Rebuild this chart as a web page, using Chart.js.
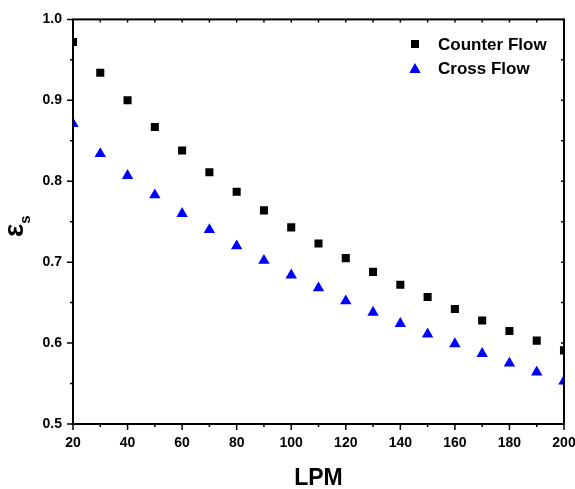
<!DOCTYPE html>
<html>
<head>
<meta charset="utf-8">
<script src="https://cdn.jsdelivr.net/npm/chart.js@4/dist/chart.umd.min.js"></script>
<style>
  html, body { margin: 0; padding: 0; background: #fff; }
  #wrap { width: 575px; height: 489px; }
</style>
</head>
<body>
<div id="wrap"><canvas id="chart"></canvas></div>
<script>
// --- data ---
const lpm = [20, 30, 40, 50, 60, 70, 80, 90, 100, 110, 120, 130, 140, 150, 160, 170, 180, 190, 200];
const counterFlow = [0.972, 0.934, 0.900, 0.867, 0.838, 0.811, 0.787, 0.764, 0.743, 0.723, 0.705, 0.688, 0.672, 0.657, 0.642, 0.628, 0.615, 0.603, 0.591];
const crossFlow = [0.871, 0.834, 0.807, 0.783, 0.760, 0.740, 0.720, 0.702, 0.684, 0.668, 0.652, 0.638, 0.624, 0.611, 0.599, 0.587, 0.575, 0.564, 0.553];
const seriesNames = ["Counter Flow", "Cross Flow"];
const xTitle = "LPM";

const FONT = "'Liberation Sans', Arial, sans-serif";
Chart.defaults.font.family = FONT;
Chart.defaults.font.weight = "bold";
Chart.defaults.color = "#000";

const toPoints = (ys) => lpm.map((x, i) => ({ x, y: ys[i] }));

// frame, minor ticks, inner ticks on top/right
const framePlugin = {
  id: "frame",
  afterDatasetsDraw(chart) {
    const { ctx, chartArea: a, scales } = chart;
    const x = scales.x, y = scales.y;
    ctx.save();
    ctx.strokeStyle = "#000";
    ctx.lineWidth = 2;
    ctx.strokeRect(a.left, a.top, a.right - a.left, a.bottom - a.top);
    ctx.lineWidth = 1.5;
    ctx.beginPath();
    for (let v = 20; v <= 200; v += 10) {
      const px = x.getPixelForValue(v);
      const major = v % 20 === 0;
      ctx.moveTo(px, a.bottom);
      ctx.lineTo(px, a.bottom + (major ? 6 : 3));
      ctx.moveTo(px, a.top);
      ctx.lineTo(px, a.top + 3);
    }
    for (let k = 0; k <= 10; k++) {
      const v = 0.5 + k * 0.05;
      const py = y.getPixelForValue(v);
      const major = k % 2 === 0;
      ctx.moveTo(a.left, py);
      ctx.lineTo(a.left - (major ? 6 : 3), py);
      ctx.moveTo(a.right, py);
      ctx.lineTo(a.right - 3, py);
    }
    ctx.stroke();
    ctx.restore();
  },
  afterDraw(chart) {
    const { ctx } = chart;
    ctx.save();
    // y title: epsilon with subscript s, rotated
    ctx.fillStyle = "#000";
    ctx.translate(23, 237);
    ctx.rotate(-Math.PI / 2);
    ctx.textBaseline = "alphabetic";
    ctx.textAlign = "left";
    ctx.font = "bold 28px " + FONT;
    ctx.fillText("\u03b5", 0, 0);
    const w = ctx.measureText("\u03b5").width;
    ctx.font = "bold 15px " + FONT;
    ctx.fillText("s", w, 7);
    ctx.restore();

    // legend inside the plot
    ctx.save();
    ctx.font = "bold 17px " + FONT;
    ctx.textBaseline = "middle";
    chart.data.datasets.forEach((ds, i) => {
      const cy = 44 + i * 24;
      ctx.fillStyle = ds.backgroundColor;
      Chart.helpers.drawPoint(ctx, {
        pointStyle: ds.pointStyle,
        radius: ds.pointRadius,
        rotation: 0,
        borderWidth: 0
      }, 415, cy + (ds.pointStyle === "triangle" ? 1.6 : 0));
      ctx.fillStyle = "#000";
      ctx.fillText(ds.label, 438, cy + 1);
    });
    ctx.restore();
  }
};

new Chart(document.getElementById("chart"), {
  type: "scatter",
  data: {
    datasets: [
      {
        label: seriesNames[0],
        data: toPoints(counterFlow),
        pointStyle: "rect",
        pointRadius: 5.7,
        pointHoverRadius: 5.7,
        backgroundColor: "#000",
        borderWidth: 0,
        clip: 0
      },
      {
        label: seriesNames[1],
        data: toPoints(crossFlow),
        pointStyle: "triangle",
        pointRadius: 6.6,
        pointHoverRadius: 6.6,
        backgroundColor: "#0000ff",
        borderWidth: 0,
        clip: 0
      }
    ]
  },
  options: {
    responsive: true,
    maintainAspectRatio: false,
    animation: false,
    layout: { padding: { left: 0, top: 19, right: 0, bottom: 0 } },
    plugins: {
      legend: { display: false },
      tooltip: { enabled: false }
    },
    scales: {
      x: {
        type: "linear",
        min: 20,
        max: 200,
        grid: { display: false, drawTicks: false },
        border: { display: false },
        ticks: {
          stepSize: 20,
          padding: 11,
          font: { size: 14, weight: "bold" },
          maxRotation: 0
        },
        title: {
          display: true,
          text: xTitle,
          font: { size: 23, weight: "bold" },
          padding: { top: 0, bottom: -3 }
        },
        afterFit(scale) {
          scale.height = 65;
          scale.paddingRight = 11;
        }
      },
      y: {
        min: 0.5,
        max: 1.0,
        grid: { display: false, drawTicks: false },
        border: { display: false },
        ticks: {
          stepSize: 0.1,
          padding: 11,
          font: { size: 14, weight: "bold" },
          callback: (v) => v.toFixed(1)
        },
        afterFit(scale) { scale.width = 73; }
      }
    }
  },
  plugins: [framePlugin]
});
</script>
</body>
</html>
